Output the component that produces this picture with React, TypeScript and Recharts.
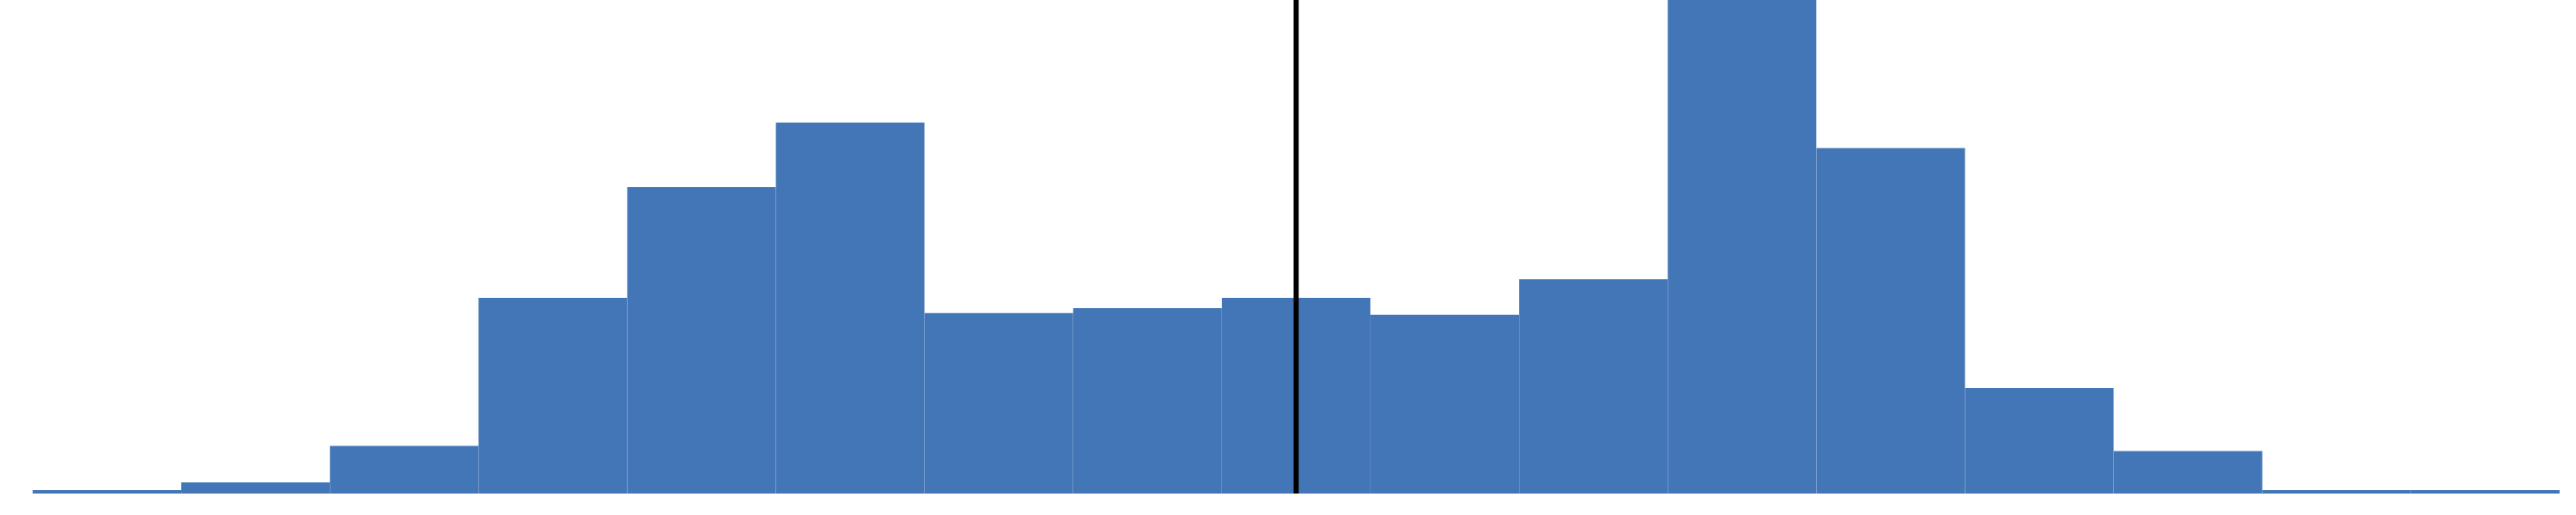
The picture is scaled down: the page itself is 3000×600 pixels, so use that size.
import React from "react";
import { BarChart, Bar, XAxis, YAxis, ReferenceLine } from "recharts";

const bins = ["1", "2", "3", "4", "5", "6", "7", "8", "9", "10", "11", "12", "13", "14", "15", "16", "17"];
const counts = [2, 6.5, 28, 115, 180, 218, 106, 109, 115, 105, 126, 290, 203, 62, 25, 2, 2];
const markerBin = "9";

function App() {
  const data = bins.map((bin, i) => ({ bin, count: counts[i] }));

  return (
    <div style={{ position: "absolute", left: 0, top: 0 }}>
      <BarChart
        width={3000}
        height={600}
        data={data}
        margin={{ top: 0, right: 19, bottom: 25, left: 38 }}
        barCategoryGap={0}
        barGap={0}
      >
        <XAxis
          dataKey="bin"
          tick={false}
          tickLine={false}
          axisLine={{ stroke: "#4276b6", strokeWidth: 3 }}
          height={0}
        />
        <YAxis hide domain={[0, 290]} allowDataOverflow />
        <Bar dataKey="count" fill="#4276b6" isAnimationActive={false} />
        <ReferenceLine x={markerBin} stroke="#000000" strokeWidth={6} />
      </BarChart>
    </div>
  );
}

export default App;
